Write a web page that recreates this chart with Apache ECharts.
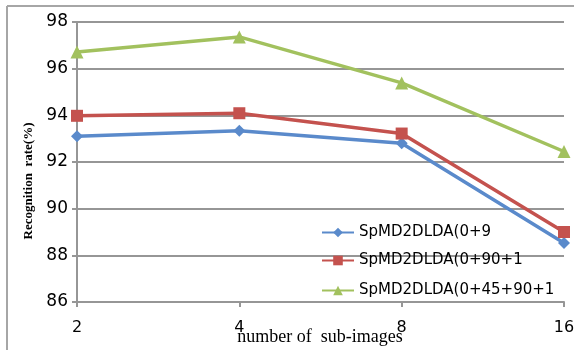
<!DOCTYPE html>
<html>
<head>
<meta charset="utf-8">
<script src="https://cdn.jsdelivr.net/npm/echarts@6/dist/echarts.min.js"></script>
<style>
  html, body { margin: 0; padding: 0; background: #fff; }
  #chart { width: 574px; height: 350px; }
</style>
</head>
<body>
<div id="chart"></div>
<script>
// Sub-image counts on the x axis
const subImages = ['2', '4', '8', '16'];

// Recognition rates (%) per direction combination
const names = ['SpMD2DLDA(0+90)', 'SpMD2DLDA(0+90+135)', 'SpMD2DLDA(0+45+90+135)'];
const rate090 = [93.1, 93.34, 92.8, 88.53];
const rate090135 = [93.98, 94.09, 93.22, 89.0];
const rate04590135 = [96.71, 97.36, 95.39, 92.45];

const colors = ['#5a8acb', '#c4524e', '#a2c15e'];
const symbols = ['diamond', 'rect', 'triangle'];
const symbolSizes = [12, 12, 13];
const legendWidths = [136, 170, 200];
const legendTops = [225, 253, 283];

const chart = echarts.init(document.getElementById('chart'));

const seriesData = [rate090, rate090135, rate04590135];

chart.setOption({
  animation: false,
  backgroundColor: '#ffffff',
  grid: { left: 77, right: 10, top: 22, bottom: 48, containLabel: false, outerBoundsMode: 'none' },
  graphic: [
    {
      type: 'line', silent: true,
      shape: { x1: 7, y1: 6, x2: 574, y2: 6 },
      style: { stroke: '#a6a6a6', lineWidth: 2 }
    },
    {
      type: 'line', silent: true,
      shape: { x1: 7, y1: 6, x2: 7, y2: 350 },
      style: { stroke: '#a6a6a6', lineWidth: 2 }
    },
    {
      // y axis title
      type: 'text', silent: true,
      x: 29, y: 181,
      rotation: Math.PI / 2,
      style: {
        text: 'Recognition  rate(%)',
        fontFamily: 'Liberation Serif',
        fontSize: 13,
        fontWeight: 'bold',
        fill: '#000',
        align: 'center',
        verticalAlign: 'middle'
      }
    },
    {
      // x axis title
      type: 'text', silent: true,
      x: 320, y: 337,
      style: {
        text: 'number of  sub-images',
        fontFamily: 'Liberation Serif',
        fontSize: 18,
        fill: '#000',
        align: 'center',
        verticalAlign: 'middle'
      }
    }
  ],
  legend: names.map((n, i) => ({
    data: [n],
    orient: 'vertical',
    left: 321,
    top: legendTops[i],
    padding: 0,
    itemWidth: 32,
    itemHeight: 12,
    itemGap: 4,
    textStyle: {
      fontFamily: 'DejaVu Sans',
      fontSize: 15,
      color: '#000',
      width: legendWidths[i],
      overflow: 'truncate',
      ellipsis: ''
    }
  })),
  xAxis: {
    type: 'category',
    data: subImages,
    boundaryGap: false,
    axisLine: { lineStyle: { color: '#969696', width: 2 } },
    axisTick: { show: true, length: 5, lineStyle: { color: '#969696', width: 2 } },
    axisLabel: { fontFamily: 'DejaVu Sans', fontSize: 16, color: '#000', margin: 18 },
    splitLine: { show: false }
  },
  yAxis: {
    type: 'value',
    min: 86,
    max: 98,
    interval: 2,
    axisLine: { show: true, lineStyle: { color: '#969696', width: 2 } },
    axisTick: { show: true, length: 5, lineStyle: { color: '#969696', width: 2 } },
    axisLabel: { fontFamily: 'DejaVu Sans', fontSize: 17, color: '#000', margin: 9 },
    splitLine: { lineStyle: { color: '#969696', width: 2 } }
  },
  series: names.map((n, i) => ({
    name: n,
    type: 'line',
    data: seriesData[i],
    color: colors[i],
    symbol: symbols[i],
    symbolSize: symbolSizes[i],
    showAllSymbol: true,
    lineStyle: { width: 3.5, color: colors[i] },
    itemStyle: { color: colors[i] }
  }))
});
</script>
</body>
</html>
